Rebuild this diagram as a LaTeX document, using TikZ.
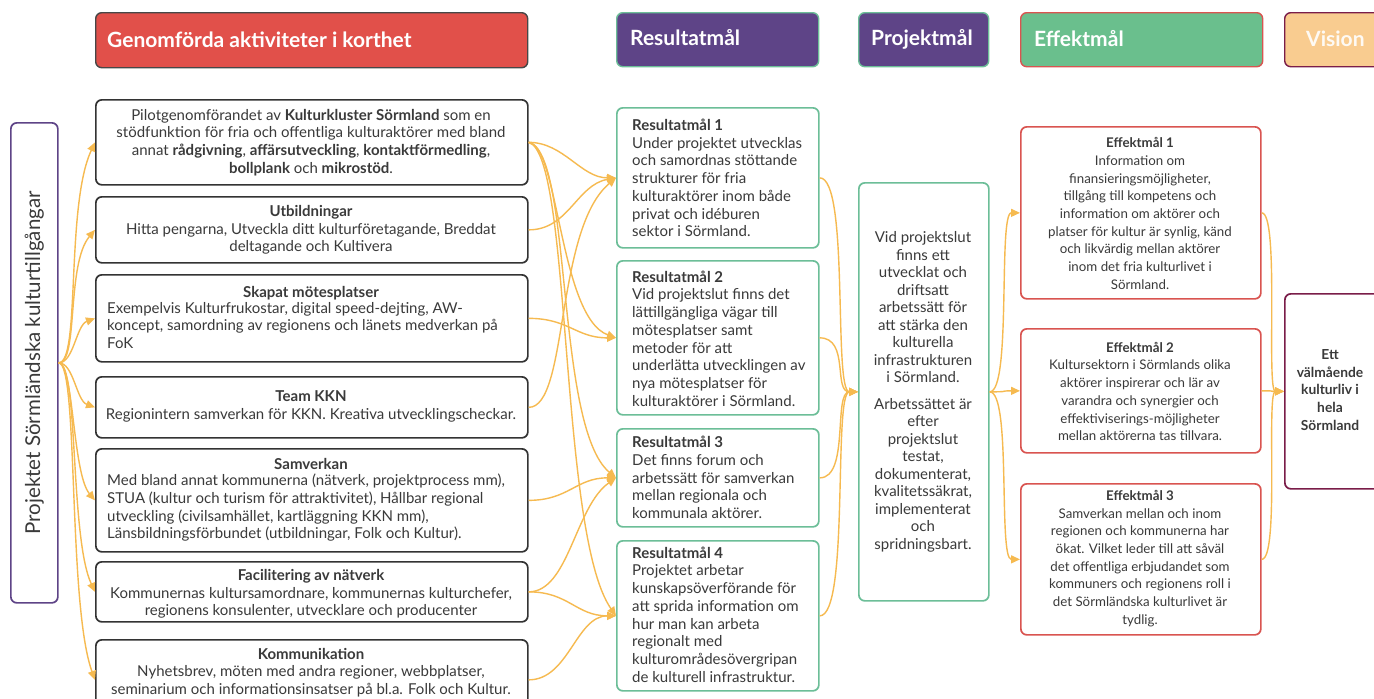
\documentclass[tikz,border=0pt]{standalone}
\usepackage{fontspec}
\setmainfont{Lato}
\usetikzlibrary{arrows.meta}
\definecolor{txt}{HTML}{3A3A3A}
\definecolor{hdrRed}{HTML}{E1504A}
\definecolor{purp}{HTML}{5E4487}
\definecolor{grn}{HTML}{6CBE98}
\definecolor{grnFill}{HTML}{6ABF8D}
\definecolor{redB}{HTML}{D95450}
\definecolor{peach}{HTML}{F9CC90}
\definecolor{maroon}{HTML}{7A1D49}
\definecolor{arr}{HTML}{F6BA50}
\definecolor{dark}{HTML}{333333}
\tikzset{
  box/.style={rounded corners=6pt, line width=1.7pt, inner sep=0pt, anchor=north west},
  actbox/.style={box, draw=dark, fill=white},
  resbox/.style={box, draw=grn, fill=white},
  effbox/.style={box, draw=redB, fill=white},
  hdr/.style={box, line width=1.4pt},
  hdrtxt/.style={anchor=west, text=white, font=\fontsize{21}{24}\selectfont\bfseries, inner sep=0pt},
  acttxt/.style={text=txt, font=\fontsize{15}{17.7}\selectfont, inner sep=0pt},
  restxt/.style={text=txt, font=\fontsize{15}{17.7}\selectfont, inner sep=0pt, align=left, anchor=west},
  efftxt/.style={text=txt, font=\fontsize{13.3}{17.7}\selectfont, inner sep=0pt, align=center},
  conn/.style={draw=arr, line width=1.4pt, -{Triangle[length=9pt,width=8pt]}},
}
\begin{document}
\begin{tikzpicture}[x=1pt,y=1pt]
\useasboundingbox (0,0) rectangle (1374,-699);
\clip (0,0) rectangle (1374,-699);
\fill[white] (0,0) rectangle (1374,-699);

% headers
\node[hdr, draw=dark!90, fill=hdrRed, minimum width=432pt, minimum height=55pt] (H1) at (95,-12) {};
\node[hdrtxt] (H1t) at (107,-40) {Genomförda aktiviteter i korthet};
\node[hdr, draw=grn, fill=purp, minimum width=202pt, minimum height=54pt] (H2) at (616,-12) {};
\node[hdrtxt] (H2t) at (630,-38) {Resultatmål};
\node[hdr, draw=grn, fill=purp, minimum width=130pt, minimum height=54pt] (H3) at (858,-12) {};
\node[hdrtxt] (H3t) at (871,-39) {Projektmål};
\node[hdr, draw=redB, fill=grnFill, minimum width=242pt, minimum height=54pt] (H4) at (1020,-12) {};
\node[hdrtxt] (H4t) at (1034,-39) {Effektmål};
\node[hdr, draw=maroon, fill=peach, minimum width=140pt, minimum height=54pt] (H5) at (1284,-12) {};
\node[hdrtxt, text=white!90!peach] (H5t) at (1306,-39) {Vision};

% left box
\node[box, draw=purp, fill=white, minimum width=47pt, minimum height=480pt] (L) at (10,-122) {};
\node[rotate=90, text=txt, font=\fontsize{20.5}{24}\selectfont, inner sep=0pt] (Lt) at (L.center) {Projektet Sörmländska kulturtillgångar};

% activity boxes
\node[actbox, minimum width=432pt, minimum height=85pt] (A1) at (95,-99) {};
\node[acttxt, align=center] (A1t) at (311,-142.5) {Pilotgenomförandet av \textbf{Kulturkluster Sörmland} som en\\ stödfunktion för fria och offentliga kulturaktörer med bland\\ annat \textbf{rådgivning}, \textbf{affärsutveckling}, \textbf{kontaktförmedling},\\ \textbf{bollplank} och \textbf{mikrostöd}.};

\node[actbox, minimum width=432pt, minimum height=66pt] (A2) at (95,-196) {};
\node[acttxt, align=center] (A2t) at (311,-230) {\textbf{Utbildningar}\\ Hitta pengarna, Utveckla ditt kulturföretagande, Breddat\\ deltagande och Kultivera};

\node[actbox, minimum width=432pt, minimum height=87pt] (A3) at (95,-274) {};
\node[acttxt, anchor=base] (A3h) at (311,-297) {\textbf{Skapat mötesplatser}};
\node[acttxt, align=left, anchor=north west] (A3t) at (107,-302) {Exempelvis Kulturfrukostar, digital speed-dejting, AW-\\ koncept, samordning av regionens och länets medverkan på\\ FoK};

\node[actbox, minimum width=432pt, minimum height=61pt] (A4) at (95,-376) {};
\node[acttxt, align=center] (A4t) at (311,-406.5) {\textbf{Team KKN}\\ Regionintern samverkan för KKN. Kreativa utvecklingscheckar.};

\node[actbox, minimum width=432pt, minimum height=103pt] (A5) at (95,-448) {};
\node[acttxt, anchor=base] (A5h) at (311,-469) {\textbf{Samverkan}};
\node[acttxt, align=left, anchor=north west] (A5t) at (107,-474) {Med bland annat kommunerna (nätverk, projektprocess mm),\\ STUA (kultur och turism för attraktivitet), Hållbar regional\\ utveckling (civilsamhället, kartläggning KKN mm),\\ Länsbildningsförbundet (utbildningar, Folk och Kultur).};

\node[actbox, minimum width=432pt, minimum height=60pt] (A6) at (95,-561) {};
\node[acttxt, align=center] (A6t) at (311,-594) {\textbf{Facilitering av nätverk}\\ Kommunernas kultursamordnare, kommunernas kulturchefer,\\ regionens konsulenter, utvecklare och producenter};

\node[actbox, minimum width=432pt, minimum height=80pt] (A7) at (95,-639) {};
\node[acttxt, align=center] (A7t) at (311,-672.5) {\textbf{Kommunikation}\\ Nyhetsbrev, möten med andra regioner, webbplatser,\\ seminarium och informationsinsatser på bl.a. Folk och Kultur.};

% result boxes
\node[resbox, minimum width=202pt, minimum height=140pt] (R1) at (616,-107) {};
\node[restxt] (R1t) at (632,-178) {\textbf{Resultatmål 1}\\ Under projektet utvecklas\\ och samordnas stöttande\\ strukturer för fria\\ kulturaktörer inom både\\ privat och idéburen\\ sektor i Sörmland.};

\node[resbox, minimum width=202pt, minimum height=154pt] (R2) at (616,-260) {};
\node[restxt] (R2t) at (632,-338.5) {\textbf{Resultatmål 2}\\ Vid projektslut finns det\\ lättillgängliga vägar till\\ mötesplatser samt\\ metoder för att\\ underlätta utvecklingen av\\ nya mötesplatser för\\ kulturaktörer i Sörmland.};

\node[resbox, minimum width=202pt, minimum height=98pt] (R3) at (616,-428) {};
\node[restxt] (R3t) at (632,-477.5) {\textbf{Resultatmål 3}\\ Det finns forum och\\ arbetssätt för samverkan\\ mellan regionala och\\ kommunala aktörer.};

\node[resbox, minimum width=202pt, minimum height=150pt] (R4) at (616,-540) {};
\node[restxt] (R4t) at (632,-614.5) {\textbf{Resultatmål 4}\\ Projektet arbetar\\ kunskapsöverförande för\\ att sprida information om\\ hur man kan arbeta\\ regionalt med\\ kulturområdesövergripan\\ de kulturell infrastruktur.};

% project box
\node[resbox, minimum width=130pt, minimum height=418pt] (P) at (858,-182) {};
\node[efftxt, font=\fontsize{15}{17.5}\selectfont] (Pt) at (923,-392) {Vid projektslut\\ finns ett\\ utvecklat och\\ driftsatt\\ arbetssätt för\\ att stärka den\\ kulturella\\ infrastrukturen\\ i Sörmland.\\[9pt] Arbetssättet är\\ efter\\ projektslut\\ testat,\\ dokumenterat,\\ kvalitetssäkrat,\\ implementerat\\ och\\ spridningsbart.};

% effect boxes
\node[effbox, minimum width=240pt, minimum height=172pt] (E1) at (1020,-126) {};
\node[efftxt] (E1t) at (1140,-213.5) {\textbf{Effektmål 1}\\ Information om\\ finansieringsmöjligheter,\\ tillgång till kompetens och\\ information om aktörer och\\ platser för kultur är synlig, känd\\ och likvärdig mellan aktörer\\ inom det fria kulturlivet i\\ Sörmland.};

\node[effbox, minimum width=240pt, minimum height=124pt] (E2) at (1020,-328) {};
\node[efftxt] (E2t) at (1140,-391.5) {\textbf{Effektmål 2}\\ Kultursektorn i Sörmlands olika\\ aktörer inspirerar och lär av\\ varandra och synergier och\\ effektiviserings-möjligheter\\ mellan aktörerna tas tillvara.};

\node[effbox, minimum width=240pt, minimum height=151pt] (E3) at (1020,-483) {};
\node[efftxt] (E3t) at (1140,-558.5) {\textbf{Effektmål 3}\\ Samverkan mellan och inom\\ regionen och kommunerna har\\ ökat. Vilket leder till att såväl\\ det offentliga erbjudandet som\\ kommuners och regionens roll i\\ det Sörmländska kulturlivet är\\ tydlig.};

% vision box
\node[box, draw=maroon, fill=white, minimum width=130pt, minimum height=195pt] (V) at (1284,-293) {};
\node[efftxt, font=\fontsize{13.8}{17.6}\selectfont\bfseries] (Vt) at (1330,-390) {Ett\\ välmående\\ kulturliv i\\ hela\\ Sörmland};

% connectors: left fan
\draw[conn] (L.east) to[out=0,in=245,out distance=22pt,in distance=70pt] (A1.west);
\draw[conn] (L.east) to[out=0,in=230,out distance=20pt,in distance=45pt] (A2.west);
\draw[conn] (L.east) to[out=0,in=200,out distance=15pt,in distance=20pt] (A3.west);
\draw[conn] (L.east) to[out=0,in=160,out distance=15pt,in distance=20pt] (A4.west);
\draw[conn] (L.east) to[out=0,in=130,out distance=15pt,in distance=35pt] (A5.west);
\draw[conn] (L.east) to[out=0,in=115,out distance=20pt,in distance=60pt] (A6.west);
\draw[conn] (L.east) to[out=0,in=110,out distance=20pt,in distance=80pt] (A7.west);

% activities -> results
\draw[conn] (A1.east) to[out=0,in=180,out distance=35pt,in distance=35pt] (R1.west);
\draw[conn] (A1.east) to[out=-5,in=160,out distance=30pt,in distance=60pt] (R2.west);
\draw[conn] (A1.east) to[out=-12,in=140,out distance=45pt,in distance=80pt] (R3.west);
\draw[conn] (A1.east) to[out=-15,in=125,out distance=45pt,in distance=100pt] (R4.west);
\draw[conn] (A2.east) to[out=0,in=190,out distance=40pt,in distance=40pt] (R1.west);
\draw[conn] (A3.east) to[out=0,in=180,out distance=40pt,in distance=40pt] (R2.west);
\draw[conn] (A4.east) to[out=0,in=220,out distance=40pt,in distance=80pt] (R1.west);
\draw[conn] (A5.east) to[out=0,in=180,out distance=40pt,in distance=40pt] (R3.west);
\draw[conn] (A6.east) to[out=0,in=215,out distance=40pt,in distance=50pt] (R3.west);
\draw[conn] (A6.east) to[out=0,in=180,out distance=40pt,in distance=40pt] (R4.west);
\draw[conn] (A7.east) to[out=0,in=180,out distance=40pt,in distance=40pt] (R4.west);

% results -> project
\foreach \r in {R1,R2,R3,R4}
  \draw[conn] (\r.east) to[out=0,in=180,out distance=30pt,in distance=25pt] (P.west);

% project -> effects
\foreach \e in {E1,E2,E3}
  \draw[conn] (P.east) to[out=0,in=180,out distance=22pt,in distance=22pt] (\e.west);

% effects -> vision
\foreach \e in {E1,E2,E3}
  \draw[conn] (\e.east) to[out=0,in=180,out distance=18pt,in distance=18pt] (V.west);
\end{tikzpicture}
\end{document}
